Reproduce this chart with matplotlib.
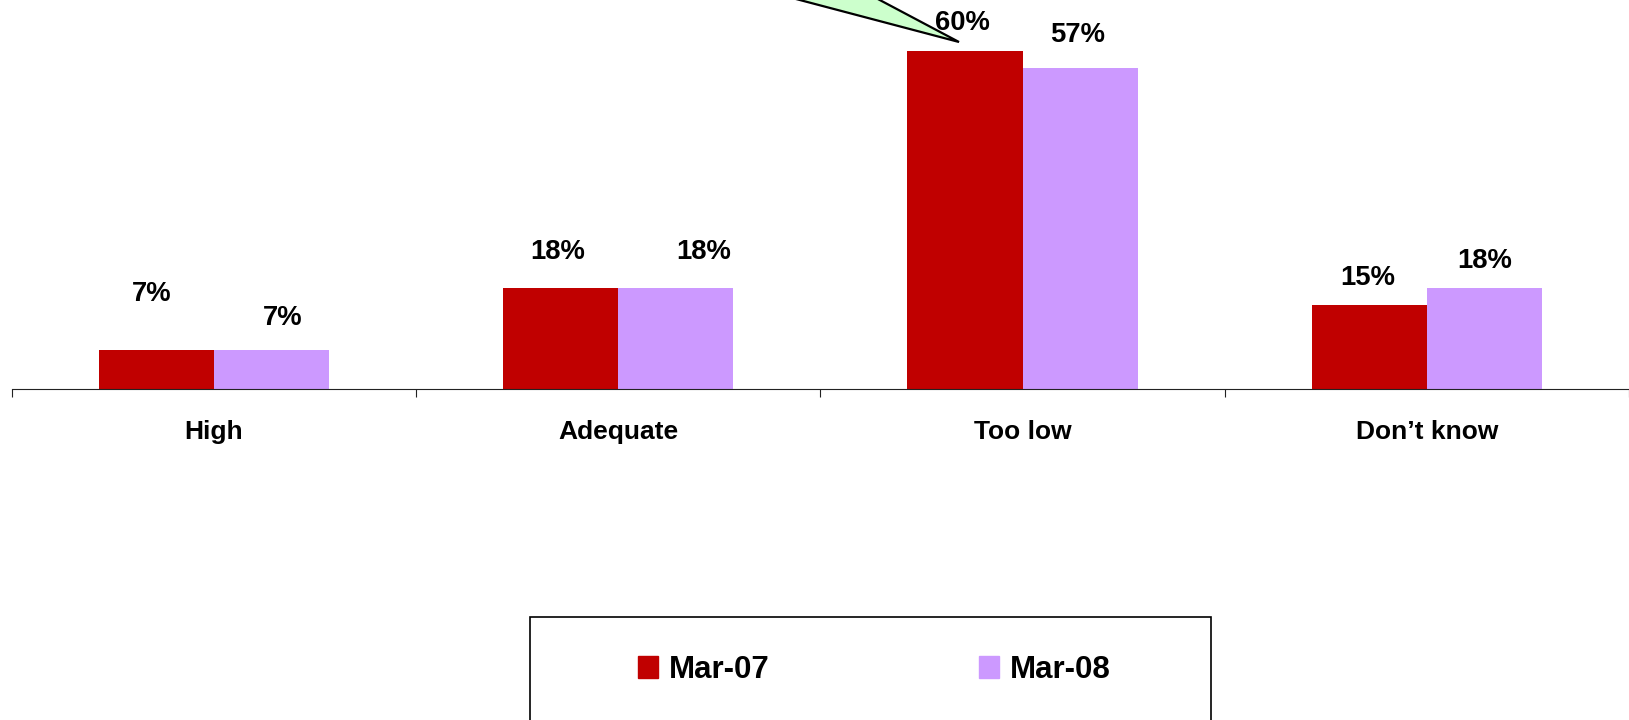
import matplotlib.pyplot as plt
from matplotlib.patches import Patch, Rectangle, Polygon
import numpy as np

categories = ["High", "Adequate", "Too low", "Don\u2019t know"]
mar07 = [7, 18, 60, 15]
mar08 = [7, 18, 57, 18]
series_names = ["Mar-07", "Mar-08"]

# label nudges (points) as the labels were moved by hand in the original
off07 = [(-3, 40), (-2, 26), (-2, 20), (-1, 19)]
off08 = [(8, 23), (20, 26), (-2, 24), (0, 19)]

red = "#C00000"
purple = "#CC99FF"

W, H = 1629, 720
plt.rcParams['font.family'] = ['Liberation Sans', 'DejaVu Sans']
plt.rcParams['font.weight'] = 'bold'

fig = plt.figure(figsize=(W / 100, H / 100), dpi=100)
ax = fig.add_axes([11.7 / W, 1 - 389 / H, 1 - 11.7 / W, 389 / H])

x = np.arange(len(categories))
bw = 0.285
b1 = ax.bar(x - bw / 2, mar07, bw, color=red, label=series_names[0])
b2 = ax.bar(x + bw / 2, mar08, bw, color=purple, label=series_names[1])

for bars, vals, offs in [(b1, mar07, off07), (b2, mar08, off08)]:
    for b, v, (dx, dy) in zip(bars, vals, offs):
        ax.annotate("%d%%" % v, (b.get_x() + b.get_width() / 2, v),
                    xytext=(dx, dy), textcoords='offset points',
                    ha='center', va='center', fontsize=19.8, fontweight='bold')

ax.set_xlim(-0.5, -0.5 + (W - 11.7) / 407)
ax.set_ylim(0, 389 / 5.63)
for s in ['left', 'right', 'top']:
    ax.spines[s].set_visible(False)
ax.spines['bottom'].set_color('#222222')
ax.set_yticks([])
ax.set_xticks(np.arange(len(categories) + 1) - 0.5)
ax.set_xticklabels([])
ax.tick_params(axis='x', which='major', direction='out', length=6, color='#222222')
ax.set_xticks(x, minor=True)
ax.set_xticklabels(categories, minor=True, fontsize=19, fontweight='bold')
ax.tick_params(axis='x', which='minor', length=0, pad=22)

# callout tail coming from off the top
tail = Polygon([(959 / W, 1 - 42 / H), (724 / W, 1 + 20 / H), (842 / W, 1 + 20 / H)],
               closed=True, transform=fig.transFigure, facecolor='#CCFFCC',
               edgecolor='black', linewidth=1.6, clip_on=False)
fig.patches.append(tail)

# legend box (bottom runs off the figure)
box = Rectangle((530 / W, -10 / H), 681 / W, 113 / H, transform=fig.transFigure,
                facecolor='white', edgecolor='black', linewidth=1.2)
fig.patches.append(box)

handles = [Patch(color=red), Patch(color=purple)]
fig.legend(handles, series_names, ncol=2, loc='center',
           bbox_to_anchor=(874 / W, 1 - 670 / H), frameon=False,
           prop={'size': 22.5, 'weight': 'bold'},
           handlelength=0.64, handleheight=0.7, handletextpad=0.35,
           columnspacing=6.7)

fig.savefig("out.png", dpi=100)
